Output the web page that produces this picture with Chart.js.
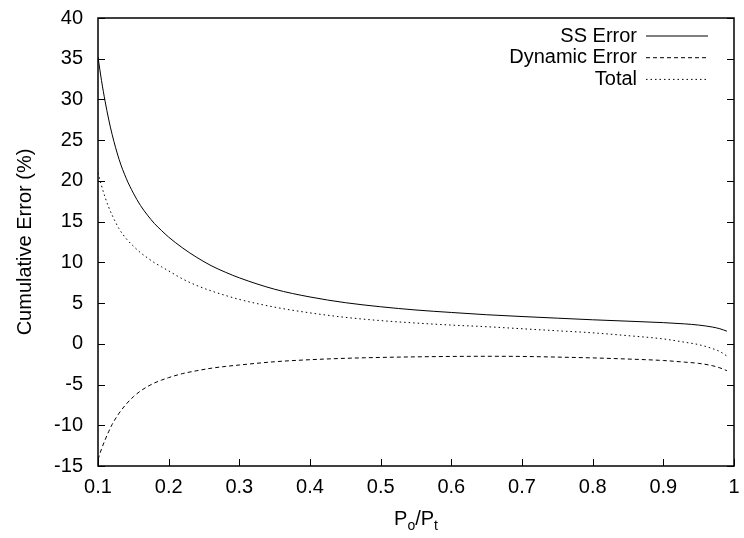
<!DOCTYPE html>
<html>
<head>
<meta charset="utf-8">
<script src="https://cdn.jsdelivr.net/npm/chart.js@4.4.0/dist/chart.umd.min.js"></script>
<style>
  html, body { margin: 0; padding: 0; background: #fff; }
</style>
</head>
<body>
<canvas id="chart" width="744" height="538"></canvas>
<script>
// Dados
const razoes = [0.1, 0.105, 0.11, 0.115, 0.12, 0.13, 0.14, 0.15, 0.16, 0.17, 0.18, 0.19, 0.2, 0.22, 0.24,
  0.26, 0.28, 0.3, 0.35, 0.4, 0.45, 0.5, 0.55, 0.6, 0.65, 0.7, 0.75, 0.8, 0.85, 0.9, 0.93, 0.95, 0.97, 0.98, 0.99];
const erroSS = [35.2, 32.3, 29.8, 27.6, 25.7, 22.6, 20.3, 18.5, 17.0, 15.8, 14.75, 13.9, 13.1, 11.75, 10.6,
  9.6, 8.8, 8.1, 6.7, 5.75, 5.05, 4.55, 4.15, 3.85, 3.57, 3.35, 3.15, 2.95, 2.78, 2.6, 2.45, 2.3, 2.05, 1.85, 1.55];
const erroDinamico = [-14.2, -12.9, -11.8, -10.8, -9.9, -8.5, -7.4, -6.5, -5.8, -5.25, -4.8, -4.45, -4.15, -3.65, -3.3,
  -3.0, -2.78, -2.6, -2.2, -1.95, -1.78, -1.67, -1.6, -1.55, -1.53, -1.55, -1.63, -1.73, -1.87, -2.05, -2.25, -2.4, -2.7, -2.95, -3.3];
const erroTotal = [21.0, 19.4, 18.0, 16.8, 15.8, 14.1, 12.9, 12.0, 11.2, 10.55, 9.95, 9.45, 8.95, 7.95, 7.15,
  6.5, 5.95, 5.45, 4.5, 3.8, 3.25, 2.85, 2.55, 2.3, 2.1, 1.85, 1.6, 1.35, 1.0, 0.6, 0.2, -0.1, -0.6, -0.95, -1.5];
const xTicks = [0.1, 0.2, 0.3, 0.4, 0.5, 0.6, 0.7, 0.8, 0.9, 1];
const yTicks = [-15, -10, -5, 0, 5, 10, 15, 20, 25, 30, 35, 40];
const nomes = ["SS Error", "Dynamic Error", "Total"];

const FONTE = "'Liberation Sans', Arial, Helvetica, sans-serif";

const pontos = (valores) => razoes.map((x, i) => ({ x: x, y: valores[i] }));

// Moldura, marcas internas, legenda e títulos dos eixos
const estiloGnuplot = {
  id: "estiloGnuplot",
  afterDraw(chart) {
    const ctx = chart.ctx;
    const area = chart.chartArea;
    const sx = chart.scales.x;
    const sy = chart.scales.y;
    ctx.save();

    ctx.strokeStyle = "#000";
    ctx.lineWidth = 1;
    ctx.beginPath();
    yTicks.forEach((v) => {
      const py = Math.round(sy.getPixelForValue(v)) + 0.5;
      ctx.moveTo(area.left, py);
      ctx.lineTo(area.left + 7, py);
      ctx.moveTo(area.right, py);
      ctx.lineTo(area.right - 7, py);
    });
    xTicks.forEach((v) => {
      const px = Math.round(sx.getPixelForValue(v)) + 0.5;
      ctx.moveTo(px, area.bottom);
      ctx.lineTo(px, area.bottom - 7);
    });
    ctx.stroke();

    ctx.lineWidth = 1.5;
    ctx.strokeRect(area.left, area.top, area.right - area.left, area.bottom - area.top);

    // Legenda
    ctx.font = "20px " + FONTE;
    ctx.fillStyle = "#000";
    ctx.textAlign = "right";
    ctx.textBaseline = "middle";
    chart.data.datasets.forEach((ds, i) => {
      const py = 36 + i * 21.7;
      ctx.fillText(ds.label, 637, py);
      ctx.lineWidth = 1;
      ctx.setLineDash(ds.borderDash || []);
      ctx.beginPath();
      ctx.moveTo(646, py);
      ctx.lineTo(708, py);
      ctx.stroke();
    });
    ctx.setLineDash([]);

    // Título do eixo Y
    ctx.save();
    ctx.translate(25, (area.top + area.bottom) / 2);
    ctx.rotate(-Math.PI / 2);
    ctx.textAlign = "center";
    ctx.textBaseline = "middle";
    ctx.fillText("Cumulative Error (%)", 0, 0);
    ctx.restore();

    // Título do eixo X: Po/Pt com subscritos
    const partes = [["P", 20, 0], ["o", 14, 5], ["/P", 20, 0], ["t", 14, 5]];
    let largura = 0;
    partes.forEach((p) => {
      ctx.font = p[1] + "px " + FONTE;
      largura += ctx.measureText(p[0]).width;
    });
    let cx = (area.left + area.right) / 2 - largura / 2;
    ctx.textAlign = "left";
    ctx.textBaseline = "alphabetic";
    partes.forEach((p) => {
      ctx.font = p[1] + "px " + FONTE;
      ctx.fillText(p[0], cx, 525 + p[2]);
      cx += ctx.measureText(p[0]).width;
    });

    ctx.restore();
  },
};

const ctx = document.querySelector("#chart").getContext("2d");
const chart = new Chart(ctx, {
  type: "line",
  data: {
    datasets: [
      { label: nomes[0], data: pontos(erroSS), borderDash: [] },
      { label: nomes[1], data: pontos(erroDinamico), borderDash: [4, 3] },
      { label: nomes[2], data: pontos(erroTotal), borderDash: [1.5, 3] },
    ].map((ds) => ({
      ...ds,
      borderColor: "#000",
      borderWidth: 1,
      pointRadius: 0,
      fill: false,
      cubicInterpolationMode: "monotone",
    })),
  },
  options: {
    responsive: false,
    animation: false,
    layout: { padding: { top: 18, right: 10, left: 0, bottom: 0 } },
    plugins: { legend: { display: false }, tooltip: { enabled: false } },
    scales: {
      x: {
        type: "linear",
        min: 0.1,
        max: 1,
        afterFit: (s) => { s.height = 72; s.paddingLeft = 0; s.paddingRight = 0; },
        afterBuildTicks: (s) => { s.ticks = xTicks.map((v) => ({ value: v })); },
        grid: { display: false, drawTicks: false },
        border: { display: false },
        ticks: {
          padding: 9,
          color: "#000",
          font: { family: FONTE, size: 20 },
          maxRotation: 0,
          callback: (v) => String(v),
        },
      },
      y: {
        type: "linear",
        min: -15,
        max: 40,
        afterFit: (s) => { s.width = 98; s.paddingTop = 0; s.paddingBottom = 0; },
        afterBuildTicks: (s) => { s.ticks = yTicks.map((v) => ({ value: v })); },
        grid: { display: false, drawTicks: false },
        border: { display: false },
        ticks: {
          padding: 15,
          color: "#000",
          font: { family: FONTE, size: 20 },
          callback: (v) => String(v),
        },
      },
    },
  },
  plugins: [estiloGnuplot],
});
</script>
</body>
</html>
